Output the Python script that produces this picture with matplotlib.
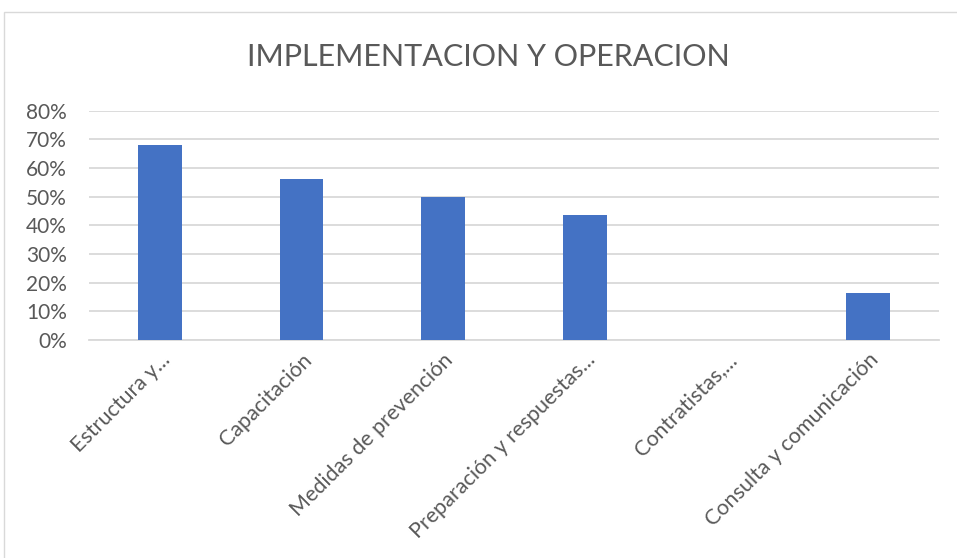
import matplotlib.pyplot as plt
from matplotlib.patches import Rectangle
from matplotlib.ticker import PercentFormatter

# data
categories = ["Estructura y...", "Capacitación", "Medidas de prevención",
              "Preparación y respuestas...", "Contratistas,...",
              "Consulta y comunicación"]
values = [0.68, 0.56, 0.50, 0.435, 0.0, 0.165]
yticks = [0, 0.1, 0.2, 0.3, 0.4, 0.5, 0.6, 0.7, 0.8]

text_color = "#595959"
grid_color = "#d9d9d9"
bar_color = "#4472C4"

plt.rcParams['font.family'] = ['Lato', 'DejaVu Sans']

fig = plt.figure(figsize=(9.57, 5.58), dpi=100)
# chart area border
fig.patches.append(Rectangle((4 / 957, -0.1), 1.2, 1 - 12 / 558 + 0.1,
                             transform=fig.transFigure, fill=False,
                             edgecolor=grid_color, linewidth=1))

ax = fig.add_axes([0.093, 0.3907, 0.888, 0.4109])
x = range(len(categories))
ax.bar(x, values, width=0.31, color=bar_color, zorder=3)

ax.set_xlim(-0.5, len(categories) - 0.5)
ax.set_ylim(0, 0.8)
ax.set_yticks(yticks)
ax.yaxis.set_major_formatter(PercentFormatter(1.0, decimals=0))
ax.grid(axis='y', color=grid_color, linewidth=1.3, zorder=0)
for s in ['top', 'right', 'left']:
    ax.spines[s].set_visible(False)
ax.spines['bottom'].set_color(grid_color)
ax.spines['bottom'].set_linewidth(1.3)
ax.tick_params(axis='both', length=0, colors=text_color)
ax.tick_params(axis='y', pad=16, labelsize=15)
ax.set_xticks(list(x))
ax.set_xticklabels(categories, rotation=45, ha='right',
                   rotation_mode='anchor', fontsize=15.5, color=text_color)
ax.tick_params(axis='x', pad=7)

fig.text(0.51, 0.897, "IMPLEMENTACION Y OPERACION", ha='center', va='center',
         fontsize=22, color=text_color)

fig.savefig("out.png", dpi=100)
